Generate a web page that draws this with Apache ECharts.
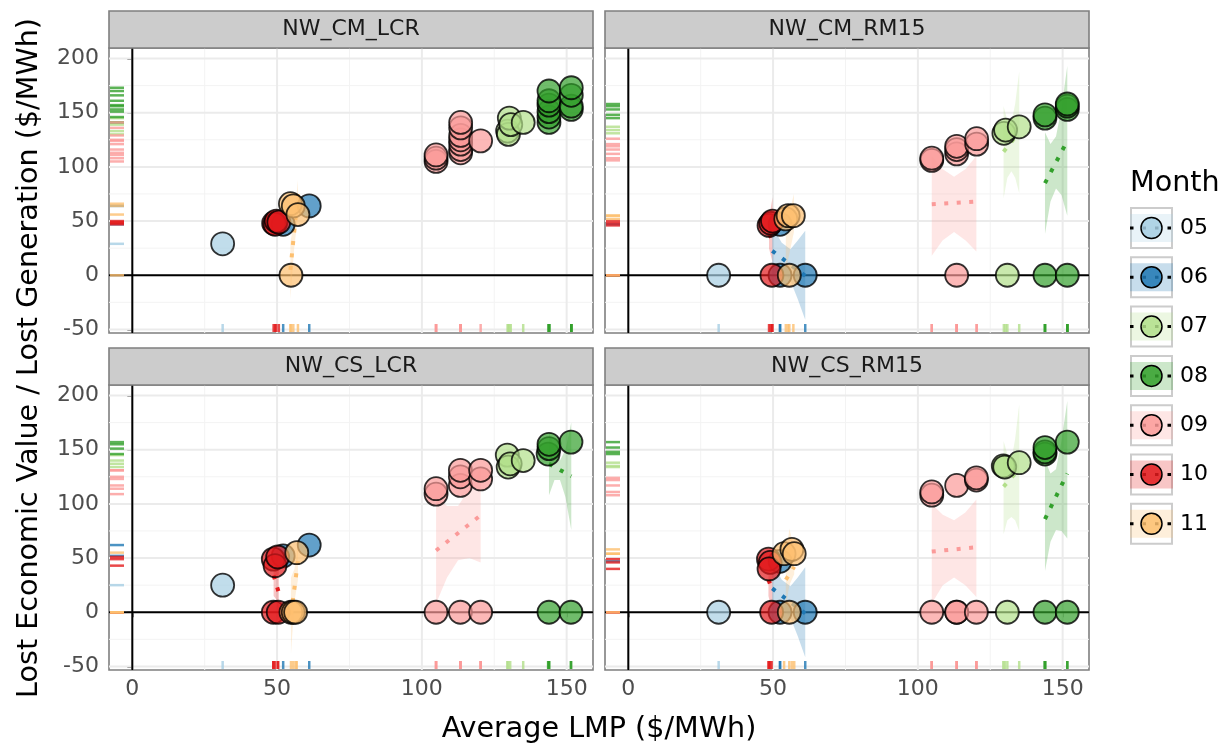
<!DOCTYPE html>
<html><head><meta charset="utf-8">
<script src="https://cdn.jsdelivr.net/npm/echarts@6/dist/echarts.min.js"></script>
<style>html,body{margin:0;padding:0;background:#fff}#c{width:1231px;height:746px}</style>
</head><body><div id="c"></div>
<script>
// ---------- data ----------
const months = ['05','06','07','08','09','10','11'];
const monthColors = ['#A6CEE3','#1F78B4','#B2DF8A','#33A02C','#FB9A99','#E31A1C','#FDBF6F'];
const panels = ['NW_CM_LCR','NW_CM_RM15','NW_CS_LCR','NW_CS_RM15'];
const xTicks = [0,50,100,150];
const xMinor = [25,75,125];
const yTicks = [-50,0,50,100,150,200];
const yMinor = [-25,25,75,125,175];

// points: [month, average LMP, lost value per lost generation]
const ptsCmLcr = [
  ['05',31.2,29],
  ['06',52.1,47],['06',61.1,64],
  ['07',129.6,133],['07',129.9,130],['07',130.2,145],['07',130.7,139],['07',135.0,141],
  ['08',143.9,141],['08',143.9,146],['08',143.9,151],['08',143.9,157],['08',143.9,161],['08',143.9,170],
  ['08',151.6,153],['08',151.6,156],['08',151.6,166],['08',151.6,173],
  ['09',104.9,105],['09',104.9,108],['09',104.9,111],['09',113.4,113],['09',113.4,116],['09',113.4,121],
  ['09',113.4,125],['09',113.4,129],['09',113.4,136],['09',113.4,141],['09',120.3,124],
  ['10',48.8,48],['10',49.3,47],['10',49.7,50],['10',50.6,49],
  ['11',54.8,0],['11',54.6,66],['11',55.6,64],['11',57.2,56]
];
const ptsCmRm15 = [
  ['05',31.2,0],
  ['06',52.4,47],['06',52.4,0],['06',61.1,0],
  ['07',129.7,131],['07',130.3,134],['07',135.0,137],['07',130.9,0],
  ['08',143.9,145],['08',143.9,148],['08',143.9,0],['08',151.6,153],['08',151.6,156],['08',151.6,158],['08',151.6,0],
  ['09',104.8,106],['09',104.8,108],['09',113.4,112],['09',113.4,116],['09',113.4,119],['09',113.4,0],
  ['09',120.3,121],['09',120.3,126],
  ['10',48.6,46],['10',49.2,48],['10',49.8,50],['10',49.6,0],
  ['11',54.4,52],['11',55.2,55],['11',57.0,55],['11',55.6,0]
];
const ptsCsLcr = [
  ['05',31.2,25],
  ['06',52.1,52],['06',61.1,62],
  ['07',129.5,145],['07',129.8,134],['07',130.5,137],['07',135.0,140],
  ['08',143.6,146],['08',143.9,151],['08',143.9,155],['08',143.9,0],['08',151.5,157],['08',151.5,0],
  ['09',104.9,109],['09',104.9,114],['09',104.9,0],['09',113.3,117],['09',113.3,125],['09',113.3,131],['09',113.3,0],
  ['09',120.3,123],['09',120.3,131],['09',120.3,0],
  ['10',48.7,49],['10',49.3,43],['10',50.2,51],['10',48.7,0],['10',50.4,0],
  ['11',56.8,55],['11',54.8,0],['11',55.6,0],['11',56.4,0]
];
const ptsCsRm15 = [
  ['05',31.2,0],
  ['06',52.4,47],['06',52.4,0],['06',61.1,0],
  ['07',129.5,135],['07',130.0,134],['07',135.0,138],['07',130.9,0],
  ['08',143.9,146],['08',143.9,148],['08',143.9,152],['08',143.9,0],['08',151.6,157],['08',151.6,0],
  ['09',104.8,108],['09',104.8,111],['09',104.8,0],['09',113.4,117],['09',113.4,0],['09',113.4,0],
  ['09',120.2,122],['09',120.2,124],['09',120.2,0],
  ['10',48.4,49],['10',49.0,46],['10',48.6,40],['10',49.5,0],
  ['11',53.8,54],['11',56.5,58],['11',57.3,54],['11',55.6,0]
];

// linear fits: [panel, month, x0, y0, x1, y1]
const fitLines = [
  ['NW_CM_LCR','11',54.6,5,57.2,75],
  ['NW_CM_RM15','10',48.6,38,49.8,32],
  ['NW_CM_RM15','06',49.7,22.5,61.1,-0.5],
  ['NW_CM_RM15','09',104.8,65.5,120.2,68],
  ['NW_CM_RM15','07',129.6,114,135,132],
  ['NW_CM_RM15','08',143.9,85,151.6,124],
  ['NW_CS_LCR','10',48.8,34,50.6,18],
  ['NW_CS_LCR','11',54.8,-2,57.2,47],
  ['NW_CS_LCR','09',104.9,57,120.3,89.5],
  ['NW_CS_LCR','08',143.9,137,151.6,125.5],
  ['NW_CS_RM15','10',48.4,30,49.8,20],
  ['NW_CS_RM15','06',49.7,22,61.1,-1],
  ['NW_CS_RM15','11',54.4,30,57.3,42],
  ['NW_CS_RM15','09',104.8,56,120.2,60],
  ['NW_CS_RM15','07',129.6,116,135,132],
  ['NW_CS_RM15','08',143.9,86,151.6,128]
];
// confidence bands: [panel, month, [[x, lower, upper], ...]]
const fitBands = [
  ['NW_CM_LCR','11',[[54.6,-22,30],[55.9,25,52],[57.2,55,88]]],
  ['NW_CM_RM15','10',[[48.6,25,52],[49.8,12,72]]],
  ['NW_CM_RM15','06',[[49.7,0,45],[53,5,30],[56,-5,24],[58.5,-22,32],[61.1,-41,41]]],
  ['NW_CM_RM15','11',[[54.4,5,45],[57.2,40,75]]],
  ['NW_CM_RM15','09',[[104.8,18,110],[108.5,32,98],[112.5,40,91],[116.5,32,98],[120.2,22,110]]],
  ['NW_CM_RM15','07',[[129.6,71,156],[130.9,90,143],[132.3,96,141],[133.6,90,158],[135,76,188]]],
  ['NW_CM_RM15','08',[[143.9,38,132],[145.8,68,121],[147.7,80,128],[149.6,74,154],[151.6,55,193]]],
  ['NW_CS_LCR','10',[[48.8,15,52],[49.7,12,38],[50.6,-5,40]]],
  ['NW_CS_LCR','11',[[54.8,-38,32],[56,10,40],[57.2,30,62]]],
  ['NW_CS_LCR','09',[[104.9,8,106],[108.7,32,98],[112.5,48,98],[116.4,50,114],[120.3,46,133]]],
  ['NW_CS_LCR','08',[[143.9,108,166],[145.8,122,152],[147.7,122,140],[149.6,106,150],[151.6,76,175]]],
  ['NW_CS_RM15','10',[[48.4,15,50],[49.8,0,45]]],
  ['NW_CS_RM15','06',[[49.7,0,45],[53,5,30],[56,-5,24],[58.5,-22,32],[61.1,-41.5,41.5]]],
  ['NW_CS_RM15','11',[[54.4,5,50],[55.6,25,77],[57.3,35,60]]],
  ['NW_CS_RM15','09',[[104.8,8,100],[108.6,25,90],[112.5,32,85],[116.4,25,92],[120.2,14,104]]],
  ['NW_CS_RM15','07',[[129.6,72,158],[130.9,85,146],[132.3,88,140],[133.6,85,160],[135,75,192]]],
  ['NW_CS_RM15','08',[[143.9,38,140],[145.8,65,128],[147.7,76,132],[149.6,75,158],[151.6,68,195]]]
];

// ---------- chart ----------
const panelPts = [ptsCmLcr, ptsCmRm15, ptsCsLcr, ptsCsRm15];
const xMin = -8.05, xMax = 159.1, yMin = -53.3, yMax = 209.7;
const FONT = 'DejaVu Sans';
const gridPos = [
  {left:109, top:48, width:484, height:285},
  {left:605, top:48, width:484, height:285},
  {left:109, top:385, width:484, height:285},
  {left:605, top:385, width:484, height:285}
];
const hex2rgba = (h,a)=>{const n=parseInt(h.slice(1),16);return 'rgba('+((n>>16)&255)+','+((n>>8)&255)+','+(n&255)+','+a+')';};
const colorOf = m => monthColors[months.indexOf(m)];

const grids = [], xAxes = [], yAxes = [], series = [];
const graphics = [];

panels.forEach((name, i) => {
  const g = gridPos[i];
  const bottom = i >= 2, left = (i % 2) === 0;
  grids.push({left:g.left, top:g.top, width:g.width, height:g.height, show:true,
    backgroundColor:'#fff', borderColor:'#7F7F7F', borderWidth:1.6, containLabel:false});
  xAxes.push({gridIndex:i, type:'value', min:xMin, max:xMax, splitLine:{show:false},
    axisLine:{show:false},
    axisTick:{show:bottom, length:5, customValues:xTicks, lineStyle:{color:'#333', width:1.5}},
    axisLabel:{show:bottom, customValues:xTicks, fontSize:22, color:'#4D4D4D', margin:8, fontFamily:FONT}});
  yAxes.push({gridIndex:i, type:'value', min:yMin, max:yMax, splitLine:{show:false},
    axisLine:{show:false},
    axisTick:{show:left, length:5, customValues:yTicks, lineStyle:{color:'#333', width:1.5}},
    axisLabel:{show:left, customValues:yTicks, fontSize:22, color:'#4D4D4D', margin:10, fontFamily:FONT}});
  const ax = {xAxisIndex:i, yAxisIndex:i};
  const vlines = (vals, color, width, z) => ({type:'custom', ...ax, z, silent:true,
    data: vals.map(v=>[v,0]),
    renderItem:(params, api)=>{const cs=params.coordSys;const p=api.coord([api.value(0),0]);
      return {type:'line', shape:{x1:p[0],y1:cs.y,x2:p[0],y2:cs.y+cs.height}, style:{stroke:color,lineWidth:width}};}});
  const hlines = (vals, color, width, z) => ({type:'custom', ...ax, z, silent:true,
    data: vals.map(v=>[0,v]),
    renderItem:(params, api)=>{const cs=params.coordSys;const p=api.coord([0,api.value(1)]);
      return {type:'line', shape:{x1:cs.x,y1:p[1],x2:cs.x+cs.width,y2:p[1]}, style:{stroke:color,lineWidth:width}};}});
  series.push(vlines(xMinor,'#F3F3F3',1,1), hlines(yMinor,'#F3F3F3',1,1));
  series.push(vlines(xTicks,'#EBEBEB',2,1), hlines(yTicks,'#EBEBEB',2,1));
  series.push(vlines([0],'#000',2,2), hlines([0],'#000',2,2));

  fitBands.filter(b=>b[0]===name).forEach(b=>{
    const rows = b[2], col = colorOf(b[1]);
    series.push({type:'custom', ...ax, z:3, silent:true, data:rows, encode:{x:0, y:[1,2]},
      renderItem:(params, api)=>{
        if (params.dataIndex !== 0) return null;
        const up = rows.map(r=>api.coord([r[0], r[2]]));
        const lo = rows.map(r=>api.coord([r[0], r[1]])).reverse();
        return {type:'polygon', shape:{points:up.concat(lo)}, style:{fill:hex2rgba(col,0.25)}};
      }});
  });
  fitLines.filter(f=>f[0]===name).forEach(f=>{
    series.push({type:'line', ...ax, z:4, silent:true, data:[[f[2],f[3]],[f[4],f[5]]],
      symbol:'none', showSymbol:false, emphasis:{disabled:true},
      lineStyle:{color:colorOf(f[1]), width:4, type:[4,8.5], cap:'butt'}});
  });
  const pts = panelPts[i];
  months.forEach(m=>{
    const d = pts.filter(r=>r[0]===m).map(r=>[r[1], r[2]]);
    if (!d.length) return;
    series.push({type:'scatter', ...ax, z:5, silent:true, data:d, symbol:'circle', symbolSize:23,
      emphasis:{disabled:true},
      itemStyle:{color:hex2rgba(colorOf(m),0.88), borderColor:'#000', borderWidth:1.8}});
  });
  // rugs
  series.push({type:'scatter', ...ax, z:6, silent:true, clip:false, symbol:'rect',
    symbolSize:[14,2.5], symbolOffset:[8,0], emphasis:{disabled:true},
    data: pts.map(r=>({value:[xMin, r[2]], itemStyle:{color:colorOf(r[0])}}))});
  series.push({type:'scatter', ...ax, z:6, silent:true, clip:false, symbol:'rect',
    symbolSize:[2.5,8], symbolOffset:[0,-5], emphasis:{disabled:true},
    data: pts.map(r=>({value:[r[1], yMin], itemStyle:{color:colorOf(r[0])}}))});

  // strip
  graphics.push({type:'rect', z:10, shape:{x:g.left, y:g.top-37, width:g.width, height:37},
    style:{fill:'#CCCCCC', stroke:'#7F7F7F', lineWidth:1.6}});
  graphics.push({type:'text', z:11, x:g.left+g.width/2, y:g.top-18.5,
    style:{text:name, textAlign:'center', textVerticalAlign:'middle', font:'22px "DejaVu Sans"', fill:'#1A1A1A'}});
});

// axis titles
graphics.push({type:'text', z:11, x:599, y:730,
  style:{text:'Average LMP ($/MWh)', textAlign:'center', textVerticalAlign:'middle', font:'28.6px "DejaVu Sans"', fill:'#000'}});
graphics.push({type:'text', z:11, x:30, y:358, rotation:Math.PI/2,
  style:{text:'Lost Economic Value / Lost Generation ($/MWh)', textAlign:'center', textVerticalAlign:'middle', font:'28.6px "DejaVu Sans"', fill:'#000'}});

// legend
graphics.push({type:'text', z:11, x:1130, y:184,
  style:{text:'Month', textAlign:'left', textVerticalAlign:'middle', font:'28.6px "DejaVu Sans"', fill:'#000'}});
months.forEach((m, k)=>{
  const cy = 228 + k*49.3, col = monthColors[k];
  graphics.push({type:'rect', z:11, shape:{x:1131, y:cy-20, width:41, height:40}, style:{fill:'#fff', stroke:'#CCCCCC', lineWidth:2}});
  graphics.push({type:'rect', z:12, shape:{x:1130, y:cy-14, width:43, height:28}, style:{fill:hex2rgba(col,0.25)}});
  graphics.push({type:'line', z:13, shape:{x1:1130, y1:cy, x2:1172, y2:cy}, style:{stroke:'#000', lineWidth:3, lineDash:[3.5,9]}});
  graphics.push({type:'circle', z:14, shape:{cx:1151.5, cy:cy, r:10.5}, style:{fill:hex2rgba(col,0.85), stroke:'#000', lineWidth:1.5}});
  graphics.push({type:'text', z:14, x:1180, y:cy,
    style:{text:m, textAlign:'left', textVerticalAlign:'middle', font:'22px "DejaVu Sans"', fill:'#000'}});
});

const chart = echarts.init(document.getElementById('c'), null, {renderer:'canvas', width:1231, height:746});
chart.setOption({
  animation:false,
  textStyle:{fontFamily:FONT},
  grid:grids, xAxis:xAxes, yAxis:yAxes, series:series, graphic:graphics
});
</script></body></html>
